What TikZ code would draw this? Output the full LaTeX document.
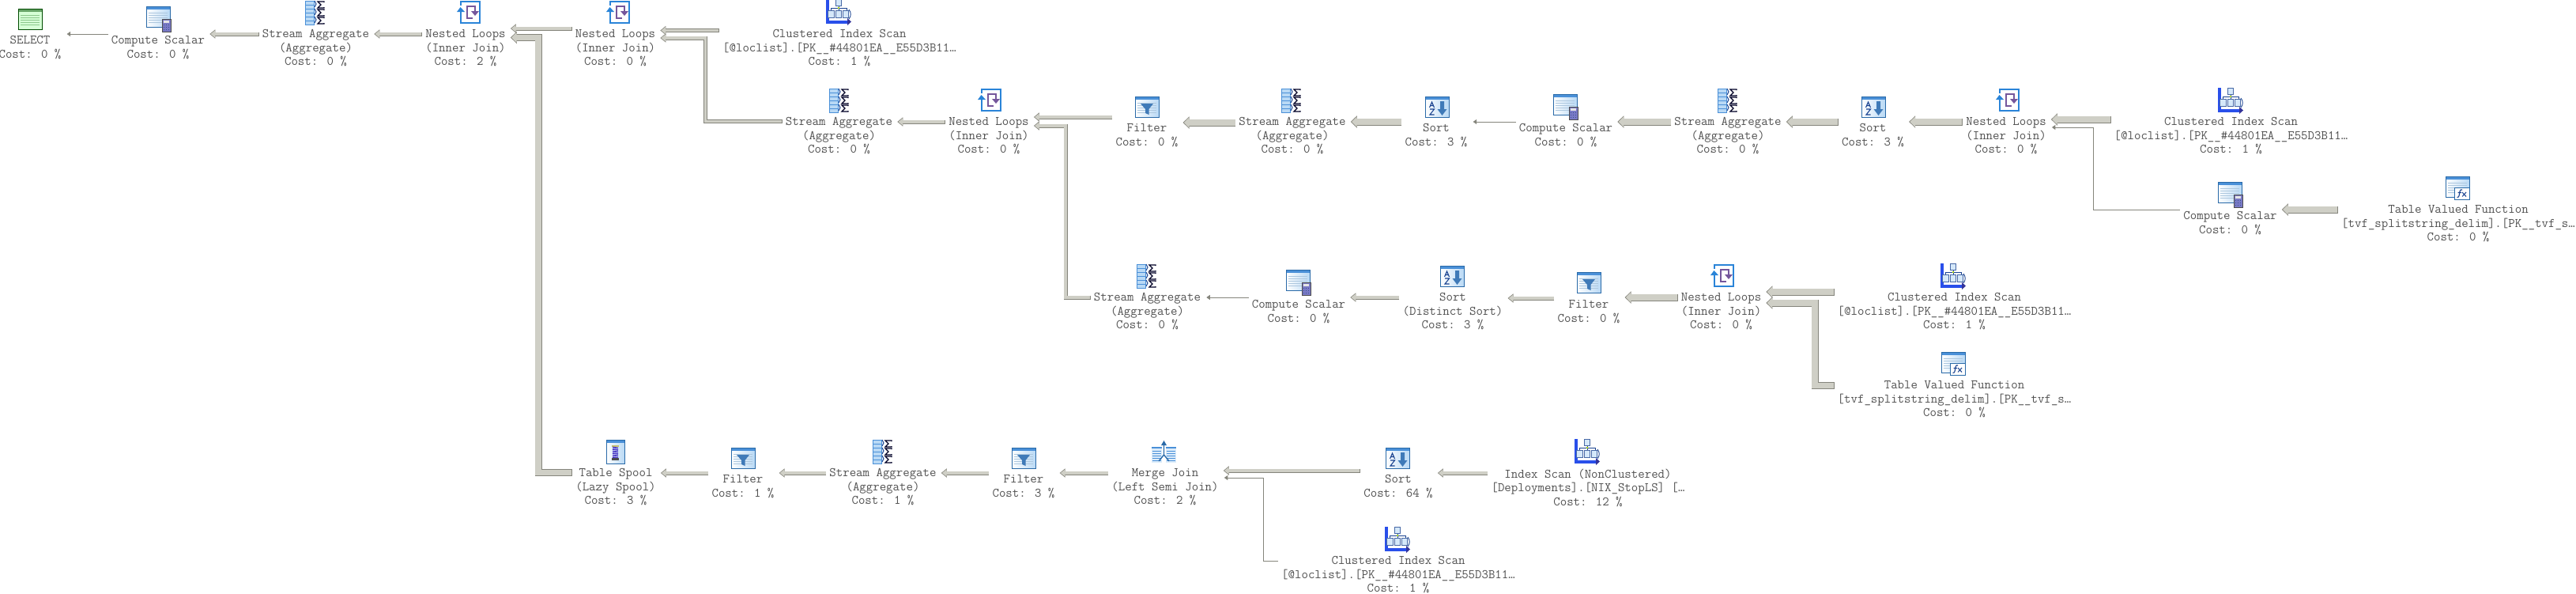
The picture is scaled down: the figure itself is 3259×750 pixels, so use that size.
\documentclass[tikz,border=0pt]{standalone}
\usepackage{tikz}
\usetikzlibrary{arrows.meta}

\definecolor{flowfill}{HTML}{CFCFC6}
\definecolor{flowedge}{HTML}{85857C}
\definecolor{optext}{HTML}{505050}
\definecolor{winbar}{HTML}{4A90D8}
\definecolor{winedge}{HTML}{2A6AA8}
\definecolor{winpale}{HTML}{B9D9F5}
\definecolor{navy}{HTML}{1A4390}
\definecolor{loopblue}{HTML}{2A84D8}
\definecolor{loopviolet}{HTML}{75579C}

% window with title bar, shared by several icons
\newcommand{\planwin}[2]{
  \shade[left color=white, right color=winpale] (0,0) rectangle (#1,#2);
  \fill[winbar] (0,0) rectangle (#1,4);
  \draw[winedge] (0,0) rectangle (#1,#2);
}
\newcommand{\planrows}{
  \foreach \r in {8,11,...,22} {\draw[winpale!80!gray, line width=.8pt] (3,\r) -- (27,\r);}
}

\tikzset{
  oplabel/.style={font=\ttfamily\fontsize{16.4}{17.5}\selectfont, text=optext, align=center,
    anchor=north, inner xsep=4pt, inner ysep=0pt, yshift=-1.5pt, execute at begin node=\strut},
  thinflow/.style={draw=flowedge, line width=1pt, -{Triangle[length=4.5pt,width=6pt]}},
  midflow/.style={draw=flowedge, line width=5pt, -{Triangle[length=7pt,width=11pt]},
    postaction={draw=flowfill, line width=3.6pt, shorten >=1.2pt, shorten <=.7pt, -{Triangle[length=5.6pt,width=8.8pt]}}},
  fatflow/.style={draw=flowedge, line width=9pt, -{Triangle[length=8pt,width=15pt]},
    postaction={draw=flowfill, line width=7.6pt, shorten >=1.2pt, shorten <=.7pt, -{Triangle[length=6.6pt,width=12.6pt]}}},
  pics/selectico/.style={code={
    \fill[green!16!white] (0,0) rectangle (30,26);
    \fill[green!40!black!60] (0,0) rectangle (30,4);
    \draw[green!30!black] (0,0) rectangle (30,26);
    \foreach \r in {8,11,...,22} {\draw[green!50!black!45, line width=.8pt] (3,\r) -- (27,\r);}
  }},
  pics/scalarico/.style={code={
    \planwin{30}{26}\planrows
    \fill[gray!60!blue!75, draw=gray!60!black] (20,16) rectangle (31,32);
    \fill[gray!20] (22,18) rectangle (29,21);
    \foreach \a in {22,25,28} {\foreach \b in {23,26,29} {\fill[navy!70!gray] (\a,\b) rectangle ++(1.4,1.4);}}
  }},
  pics/aggico/.style={code={
    \fill[winpale] (0,0) rectangle (11,30);
    \foreach \r in {0,5,...,25} {\draw[winbar] (0,\r) rectangle (11,\r+5);}
    \foreach \s in {0,10,20} {
      \draw[navy, line width=1pt] (12,\s) -- (14,\s+4) -- (12,\s+8);
      \draw[black!85!blue, line width=1.2pt] (24,\s+2) -- (24,\s+1) -- (16,\s+1) -- (20,\s+5) -- (16,\s+9) -- (24,\s+9) -- (24,\s+8);
    }
  }},
  pics/loopico/.style={code={
    \draw[loopblue, line width=1.7pt] (5,6) -- (5,1) -- (29,1) -- (29,28) -- (5,28) -- (5,14);
    \fill[loopblue] (0,14) -- (4.5,8) -- (10,14) -- cycle;
    \draw[loopviolet, line width=2pt] (20,7) -- (13,7) -- (13,22) -- (20,22);
    \draw[loopviolet, line width=2pt] (20,7) -- (23,7) -- (23,13);
    \fill[loopviolet] (18,13) -- (28,13) -- (23,19) -- cycle;
  }},
  pics/scanico/.style={code={
    \fill[blue!45!winbar] (0,0) rectangle (3.5,31);
    \fill[blue!45!winbar] (0,26.5) rectangle (27,31);
    \fill[blue!50!black!80] (27,24) -- (32,28.5) -- (27,33) -- cycle;
    \draw[navy, line width=.9pt] (16,8) -- (16,14) (6,14) -- (6,11) -- (26,11) -- (26,14);
    \draw[navy, line width=.9pt] (29,13) .. controls (32,17) and (32,21) .. (29,25);
    \fill[yellow!70!green] (14.8,9.8) rectangle (17.2,12.2);
    \foreach \a in {2.5,12,21} {\fill[winpale!60!white, draw=navy!80] (\a,14) rectangle ++(7.5,9);}
    \fill[winpale!60!white, draw=navy!80] (12,0.5) rectangle (19.5,8);
  }},
  pics/filterico/.style={code={
    \planwin{30}{26}\planrows
    \fill[winbar!85!black] (7,9) -- (23,9) -- (17.5,16) -- (17.5,23) -- (13,21) -- (13,16) -- cycle;
  }},
  pics/sortico/.style={code={
    \planwin{30}{26}
    \draw[navy, line width=1.1pt] (5.5,14) -- (8.5,7) -- (11.5,14) (6.5,11.5) -- (10.5,11.5);
    \draw[navy, line width=1.1pt] (6,16) -- (11.5,16) -- (6,23) -- (11.5,23);
    \fill[winbar!85!black] (19,6) -- (24,6) -- (24,16) -- (27.5,16) -- (21.5,24) -- (15.5,16) -- (19,16) -- cycle;
  }},
  pics/tvfico/.style={code={
    \planwin{30}{26}\planrows
    \fill[white, draw=winedge] (11,14) rectangle (30,29);
    \draw[navy, line width=1.1pt] (21,17) .. controls (18,16) and (18,19) .. (17.5,22) .. controls (17,26) and (16,27) .. (14.5,26.5) (15.5,20.5) -- (20,20.5);
    \draw[navy, line width=1pt] (21,20) -- (26,25.5) (26,20) -- (21,25.5);
  }},
  pics/spoolico/.style={code={
    \planwin{23}{30}
    \fill[gray!55!yellow] (7,6.5) rectangle (16,9);
    \foreach \r in {9.5,12,...,22} {\draw[loopviolet!60!blue, line width=1.6pt] (8,\r) -- (15,\r+1);}
    \fill[gray!60!black] (7,23) rectangle (16,26);
  }},
  pics/mergeico/.style={code={
    \foreach \a in {0,18} {
      \fill[winpale!50!white] (\a,8) rectangle (\a+13,28);
      \fill[winbar] (\a,8) rectangle (\a+13,10);
      \foreach \r in {13,16,...,25} {\draw[winbar, line width=.9pt] (\a+1,\r) -- (\a+12,\r);}
    }
    \draw[winedge, line width=1.4pt] (15.5,4) -- (15.5,18) (9,26) -- (15.5,18) -- (22,26);
    \fill[winedge] (12,6) -- (15.5,0) -- (19,6) -- cycle;
  }},
}

\begin{document}
\begin{tikzpicture}[x=1pt,y=-1pt]
  \useasboundingbox (0,0) rectangle (3259,750);
  \clip (0,0) rectangle (3259,750);

  %Top row
  \node[oplabel] (sel) at (38,44) {SELECT\\Cost: 0 \%};
  \node[oplabel] (cs1) at (200,44) {Compute Scalar\\Cost: 0 \%};
  \node[oplabel] (sa1) at (399.5,36) {Stream Aggregate\\(Aggregate)\\Cost: 0 \%};
  \node[oplabel] (nl1) at (589,36) {Nested Loops\\(Inner Join)\\Cost: 2 \%};
  \node[oplabel] (nl2) at (778.5,36) {Nested Loops\\(Inner Join)\\Cost: 0 \%};
  \node[oplabel] (cis1) at (1062,36) {Clustered Index Scan\\{[}@loclist].[PK\_\_\#44801EA\_\_E55D3B11…\\Cost: 1 \%};

  %Second row
  \node[oplabel] (sa2) at (1061.5,147) {Stream Aggregate\\(Aggregate)\\Cost: 0 \%};
  \node[oplabel] (nl3) at (1251,147) {Nested Loops\\(Inner Join)\\Cost: 0 \%};
  \node[oplabel] (fil1) at (1451,155) {Filter\\Cost: 0 \%};
  \node[oplabel] (sa3) at (1635,147) {Stream Aggregate\\(Aggregate)\\Cost: 0 \%};
  \node[oplabel] (srt1) at (1817,155) {Sort\\Cost: 3 \%};
  \node[oplabel] (cs2) at (1981,155) {Compute Scalar\\Cost: 0 \%};
  \node[oplabel] (sa4) at (2186,147) {Stream Aggregate\\(Aggregate)\\Cost: 0 \%};
  \node[oplabel] (srt2) at (2369.5,155) {Sort\\Cost: 3 \%};
  \node[oplabel] (nl4) at (2538,147) {Nested Loops\\(Inner Join)\\Cost: 0 \%};
  \node[oplabel] (cis2) at (2822.5,147) {Clustered Index Scan\\{[}@loclist].[PK\_\_\#44801EA\_\_E55D3B11…\\Cost: 1 \%};
  \node[oplabel] (cs3) at (2821.5,266) {Compute Scalar\\Cost: 0 \%};
  \node[oplabel] (tvf1) at (3110,258) {Table Valued Function\\{[}tvf\_splitstring\_delim].[PK\_\_tvf\_s…\\Cost: 0 \%};

  %Third row
  \node[oplabel] (sa5) at (1451.5,369) {Stream Aggregate\\(Aggregate)\\Cost: 0 \%};
  \node[oplabel] (cs4) at (1643,378) {Compute Scalar\\Cost: 0 \%};
  \node[oplabel] (srt3) at (1838,369) {Sort\\(Distinct Sort)\\Cost: 3 \%};
  \node[oplabel] (fil2) at (2010,378) {Filter\\Cost: 0 \%};
  \node[oplabel] (nl5) at (2177.5,369) {Nested Loops\\(Inner Join)\\Cost: 0 \%};
  \node[oplabel] (cis3) at (2472.5,369) {Clustered Index Scan\\{[}@loclist].[PK\_\_\#44801EA\_\_E55D3B11…\\Cost: 1 \%};
  \node[oplabel] (tvf2) at (2472.5,480) {Table Valued Function\\{[}tvf\_splitstring\_delim].[PK\_\_tvf\_s…\\Cost: 0 \%};

  %Bottom row
  \node[oplabel] (tsp) at (779,591) {Table Spool\\(Lazy Spool)\\Cost: 3 \%};
  \node[oplabel] (fil3) at (940,599) {Filter\\Cost: 1 \%};
  \node[oplabel] (sa6) at (1117,591) {Stream Aggregate\\(Aggregate)\\Cost: 1 \%};
  \node[oplabel] (fil4) at (1295,599) {Filter\\Cost: 3 \%};
  \node[oplabel] (mrg) at (1474,591) {Merge Join\\(Left Semi Join)\\Cost: 2 \%};
  \node[oplabel] (srt4) at (1769,599) {Sort\\Cost: 64 \%};
  \node[oplabel] (isc) at (2009,591) {Index Scan (NonClustered)\\{[}Deployments].[NIX\_StopLS] […\\Cost: 12 \%};
  \node[oplabel] (cis4) at (1769,702) {Clustered Index Scan\\{[}@loclist].[PK\_\_\#44801EA\_\_E55D3B11…\\Cost: 1 \%};

  %Icons
  \pic (selico) at (23,11) {selectico};
  \pic (cs1ico) at (185,8) {scalarico};
  \pic (sa1ico) at (386,1) {aggico};
  \pic (nl1ico) at (578,1) {loopico};
  \pic (nl2ico) at (767,1) {loopico};
  \pic (cis1ico) at (1045,-1) {scanico};
  \pic (sa2ico) at (1049,112) {aggico};
  \pic (nl3ico) at (1237,112) {loopico};
  \pic (fil1ico) at (1436,122) {filterico};
  \pic (sa3ico) at (1621,112) {aggico};
  \pic (srt1ico) at (1803,122) {sortico};
  \pic (cs2ico) at (1965,119) {scalarico};
  \pic (sa4ico) at (2173,112) {aggico};
  \pic (srt2ico) at (2355,122) {sortico};
  \pic (nl4ico) at (2525,112) {loopico};
  \pic (cis2ico) at (2806,111) {scanico};
  \pic (cs3ico) at (2806,230) {scalarico};
  \pic (tvf1ico) at (3094,223) {tvfico};
  \pic (sa5ico) at (1438,334) {aggico};
  \pic (cs4ico) at (1627,341) {scalarico};
  \pic (srt3ico) at (1822,336) {sortico};
  \pic (fil2ico) at (1995,344) {filterico};
  \pic (nl5ico) at (2164,334) {loopico};
  \pic (cis3ico) at (2455,333) {scanico};
  \pic (tvf2ico) at (2456,445) {tvfico};
  \pic (tspico) at (767,556) {spoolico};
  \pic (fil3ico) at (925,566) {filterico};
  \pic (sa6ico) at (1104,556) {aggico};
  \pic (fil4ico) at (1280,566) {filterico};
  \pic (mrgico) at (1457,557) {mergeico};
  \pic (srt4ico) at (1753,566) {sortico};
  \pic (iscico) at (1992,555) {scanico};
  \pic (cis4ico) at (1752,666) {scanico};

  %Top row lines
  \draw[thinflow] (cs1.west |- 0,43) -- ([xshift=3pt]sel.east |- 0,43);
  \draw[midflow] (sa1.west |- 0,43) -- ([xshift=2pt]cs1.east |- 0,43);
  \draw[midflow] (nl1.west |- 0,43) -- ([xshift=2pt]sa1.east |- 0,43);
  \draw[midflow] (nl2.west |- 0,36) -- ([xshift=2pt]nl1.east |- 0,36);
  \draw[midflow] (cis1.west |- 0,38.5) -- ([xshift=2pt]nl2.east |- 0,38.5);
  \draw[midflow] (sa2.west |- 0,153.5) -- (892.5,153.5) -- (892.5,48) -- ([xshift=2pt]nl2.east |- 0,48);
  \draw[fatflow] (tsp.west |- 0,597.5) -- (681,597.5) -- (681,47.5) -- ([xshift=2pt]nl1.east |- 0,47.5);

  %Second row lines
  \draw[midflow] (nl3.west |- 0,154) -- ([xshift=2pt]sa2.east |- 0,154);
  \draw[midflow] (fil1.west |- 0,148) -- ([xshift=2pt]nl3.east |- 0,148);
  \draw[midflow] (sa5.west |- 0,376) -- (1348,376) -- (1348,159) -- ([xshift=2pt]nl3.east |- 0,159);
  \draw[fatflow] (sa3.west |- 0,155) -- ([xshift=2pt]fil1.east |- 0,155);
  \draw[fatflow] (srt1.west |- 0,154) -- ([xshift=2pt]sa3.east |- 0,154);
  \draw[thinflow] (cs2.west |- 0,154) -- ([xshift=3pt]srt1.east |- 0,154);
  \draw[fatflow] (sa4.west |- 0,154) -- ([xshift=2pt]cs2.east |- 0,154);
  \draw[fatflow] (srt2.west |- 0,154) -- ([xshift=2pt]sa4.east |- 0,154);
  \draw[fatflow] (nl4.west |- 0,154) -- ([xshift=2pt]srt2.east |- 0,154);
  \draw[fatflow] (cis2.west |- 0,151) -- ([xshift=2pt]nl4.east |- 0,151);
  \draw[thinflow] (cs3.west |- 0,265) -- (2648,265) -- (2648,161) -- ([xshift=3pt]nl4.east |- 0,161);
  \draw[fatflow] (tvf1.west |- 0,265) -- ([xshift=2pt]cs3.east |- 0,265);

  %Third row lines
  \draw[thinflow] (cs4.west |- 0,376) -- ([xshift=3pt]sa5.east |- 0,376);
  \draw[midflow] (srt3.west |- 0,376) -- ([xshift=2pt]cs4.east |- 0,376);
  \draw[midflow] (fil2.west |- 0,377) -- ([xshift=2pt]srt3.east |- 0,377);
  \draw[fatflow] (nl5.west |- 0,376) -- ([xshift=2pt]fil2.east |- 0,376);
  \draw[fatflow] (cis3.west |- 0,369) -- ([xshift=2pt]nl5.east |- 0,369);
  \draw[fatflow] (tvf2.west |- 0,487.5) -- (2296,487.5) -- (2296,383) -- ([xshift=2pt]nl5.east |- 0,383);

  %Bottom row lines
  \draw[midflow] (fil3.west |- 0,598) -- ([xshift=2pt]tsp.east |- 0,598);
  \draw[midflow] (sa6.west |- 0,598) -- ([xshift=2pt]fil3.east |- 0,598);
  \draw[midflow] (fil4.west |- 0,598) -- ([xshift=2pt]sa6.east |- 0,598);
  \draw[midflow] (mrg.west |- 0,598) -- ([xshift=2pt]fil4.east |- 0,598);
  \draw[midflow] (srt4.west |- 0,595) -- ([xshift=2pt]mrg.east |- 0,595);
  \draw[midflow] (isc.west |- 0,598) -- ([xshift=2pt]srt4.east |- 0,598);
  \draw[thinflow] (cis4.west |- 0,709) -- (1598,709) -- (1598,604) -- ([xshift=3pt]mrg.east |- 0,604);
\end{tikzpicture}
\end{document}
